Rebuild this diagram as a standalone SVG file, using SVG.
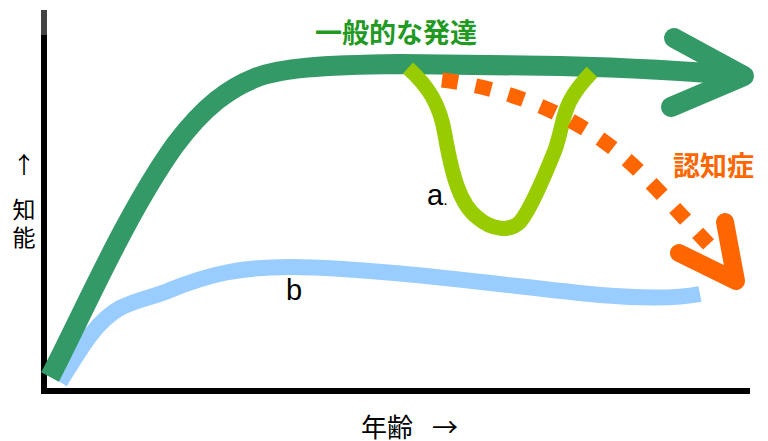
<svg xmlns="http://www.w3.org/2000/svg" width="768" height="441" viewBox="0 0 768 441">
<style>
.axis{fill:#000}
.lbl{font-family:"Noto Sans CJK JP","Liberation Sans",sans-serif;fill:#000}
.big{font-family:"Noto Sans CJK JP",sans-serif;font-weight:bold}
.letter{font-family:"Liberation Sans",Arial,sans-serif;fill:#000}
.curve{fill:none}
</style>
<rect width="768" height="441" fill="#fff"/>
<g id="axes">
  <rect x="41" y="10" width="6" height="26" fill="#444"/>
  <rect class="axis" x="41" y="35" width="6" height="359"/>
  <rect class="axis" x="41" y="388" width="709" height="6"/>
</g>
<g id="connectors">
  <path id="blue" class="curve" d="M60,382 C80,350 95,322 120,308 C140,298 155,297 170,290 C210,274 240,267 290,267 C380,268 500,285 600,295 C650,299 680,298 700,294" stroke="#99ccff" stroke-width="16"/>
  <path id="green" class="curve" d="M50,377 C80,320 125,215 175,145 C205,105 230,88 255,78 C280,68 320,65 400,64 L560,66 C640,68 700,72 743,76" stroke="#339966" stroke-width="20"/>
  <polyline class="curve" points="674,38 744,76 671,107" stroke="#339966" stroke-width="20" stroke-linecap="round" stroke-linejoin="round"/>
  <path id="a-curve" class="curve" d="M408,68 C428,86 440,104 445,135 C452,175 460,205 478,218 C492,230 510,232 520,222 C530,210 545,175 555,150 C566,118 560,105 592,72" stroke="#99cc00" stroke-width="15"/>
  <path id="dementia" class="curve" d="M442,80 C520,90 590,122 640,172 C670,202 690,225 712,248" stroke="#ff6600" stroke-width="15" stroke-dasharray="16 18"/>
  <polyline class="curve" points="679,253 736,281 725,222" stroke="#ff6600" stroke-width="18" stroke-linecap="round" stroke-linejoin="round"/>
</g>
<g id="label-general">
  <text class="big" x="315" y="43" font-size="27" fill="#229922">一般的な発達</text>
</g>
<g id="label-dementia">
  <text class="big" x="673" y="176" font-size="27" fill="#ff6600">認知症</text>
</g>
<g id="label-a">
  <text class="letter" x="427" y="205" font-size="29">a<tspan font-size="16">.</tspan></text>
</g>
<g id="label-b">
  <text class="letter" x="286" y="300" font-size="29">b</text>
</g>
<g id="label-y">
  <text class="lbl" x="24" y="173" font-size="23" text-anchor="middle">↑</text>
  <text class="lbl" x="24" y="218" font-size="23" text-anchor="middle">知</text>
  <text class="lbl" x="24" y="246" font-size="23" text-anchor="middle">能</text>
</g>
<g id="label-x">
  <text class="lbl" x="361" y="437" font-size="26">年齢</text>
  <text class="lbl" x="432" y="437" font-size="26">→</text>
</g>
</svg>
